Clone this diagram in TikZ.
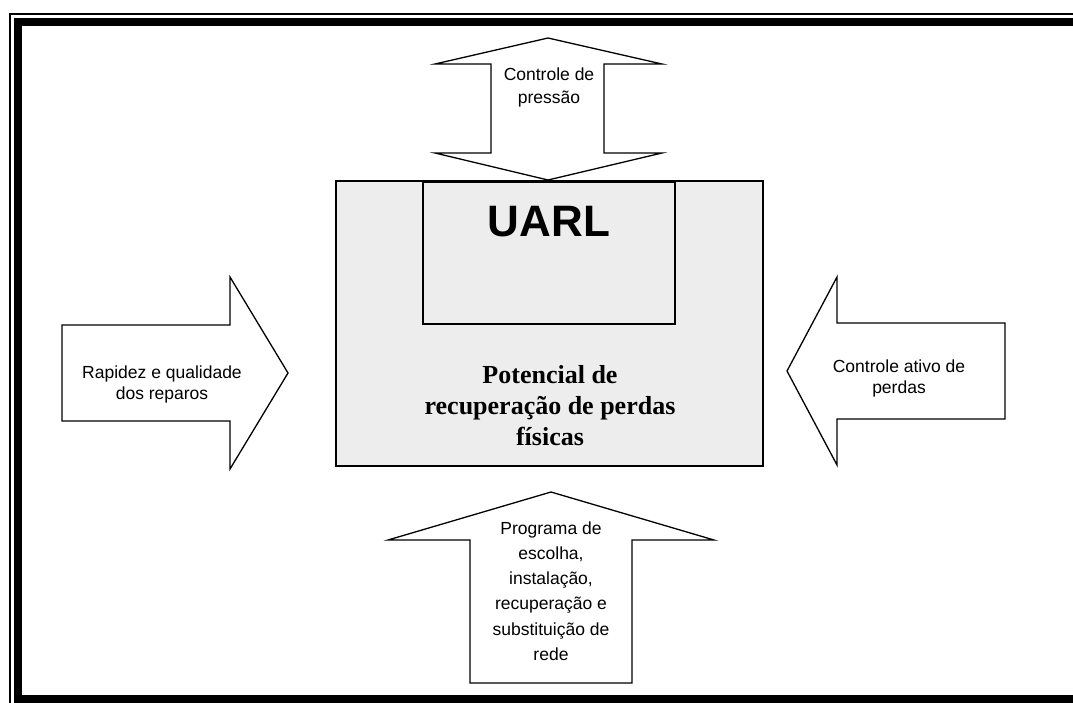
\documentclass[tikz,border=0pt]{standalone}
\usepackage{fontspec}
\setmainfont{Liberation Serif}
\setsansfont{Liberation Sans}
\begin{document}
\begin{tikzpicture}[x=1pt,y=-1pt,line join=miter,
  blockarrow/.style={draw=black,line width=1.3pt,fill=white},
  lbl/.style={font=\sffamily\fontsize{17.5}{21}\selectfont,align=center,inner sep=0pt},
  boxline/.style={draw=black,line width=1.3pt,inner sep=0pt}]
\useasboundingbox (0,0) rectangle (1073,702);
\clip (0,0) rectangle (1073,702);
\fill[white] (0,0) rectangle (1073,702);
% frame
\draw[line width=2pt] (1080,14) -- (10,14) -- (10,710);
\draw[line width=8pt] (1080,21.5) -- (18,21.5) -- (18,699) -- (1080,699);
% central box
\node[boxline,fill=black!7,minimum width=427pt,minimum height=285pt] (pot) at (549.5,323.5) {};
\node[boxline,minimum width=252pt,minimum height=142pt] (uarlbox) at (549,253) {};
\node[font=\sffamily\bfseries\fontsize{44}{48}\selectfont,inner sep=0pt] (uarl) at (549,222) {UARL};
\node[font=\rmfamily\bfseries\fontsize{26}{31}\selectfont,align=center,inner sep=0pt] (ptext) at (550,406) {Potencial de\\recuperação de perdas\\físicas};
% top double arrow
\draw[blockarrow] (548,38) -- (662,64) -- (604,64) -- (604,153) -- (662,153) -- (548,180)
  -- (435,153) -- (491,153) -- (491,64) -- (435,64) -- cycle;
\node[lbl,font=\sffamily\fontsize{17.5}{23}\selectfont] (top) at (549,87) {Controle de\\pressão};
% left arrow
\draw[blockarrow] (62,325) -- (230,325) -- (230,277) -- (288,373) -- (230,469) -- (230,421) -- (62,421) -- cycle;
\node[lbl] (left) at (162,384) {Rapidez e qualidade\\dos reparos};
% right arrow
\draw[blockarrow] (1005,323) -- (837,323) -- (837,277) -- (787,371) -- (837,465) -- (837,419) -- (1005,419) -- cycle;
\node[lbl] (right) at (899,378) {Controle ativo de\\perdas};
% bottom arrow
\draw[blockarrow] (551,492) -- (714,540) -- (632,540) -- (632,683) -- (470,683) -- (470,540) -- (388,540) -- cycle;
\node[lbl,font=\sffamily\fontsize{17.5}{25.3}\selectfont] (bottom) at (551,591) {Programa de\\escolha,\\instalação,\\recuperação e\\substituição de\\rede};
\end{tikzpicture}
\end{document}
